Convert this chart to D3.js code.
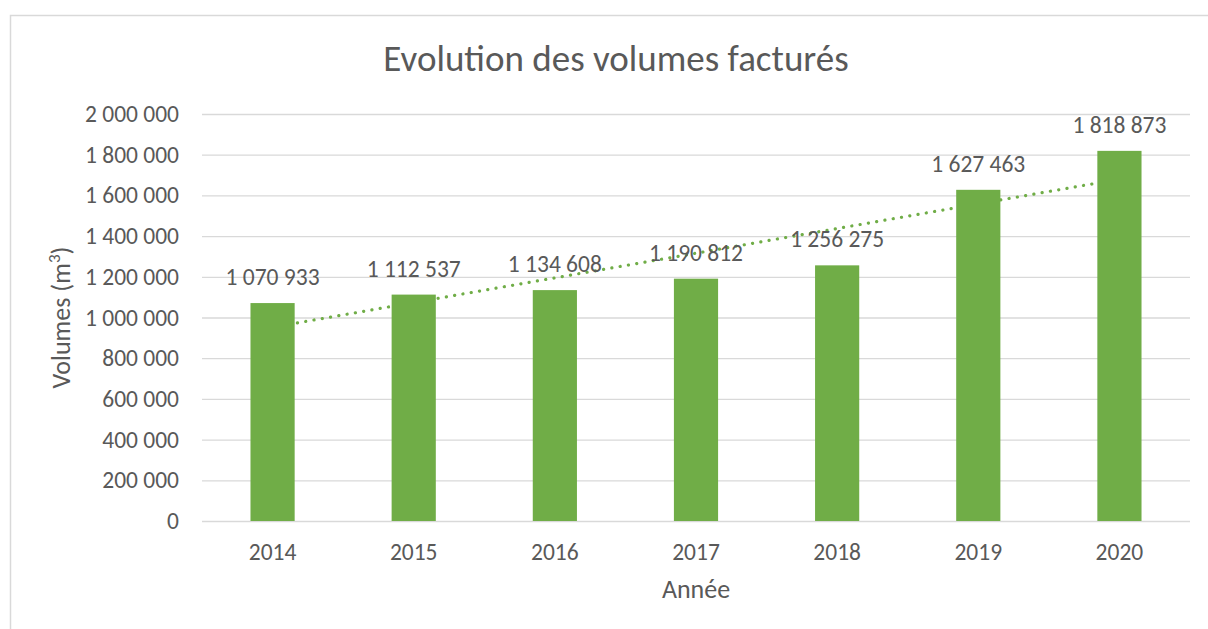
<!DOCTYPE html>
<html>
<head>
<meta charset="utf-8">
<script src="https://cdn.jsdelivr.net/npm/d3@7"></script>
<style>
  body { margin: 0; background: #fff; }
  text { font-family: Calibri, Carlito, Lato, sans-serif; fill: #595959; }
</style>
</head>
<body>
<div id="chart"></div>
<script>
var years = ["2014", "2015", "2016", "2017", "2018", "2019", "2020"];
var volumes = [1070933, 1112537, 1134608, 1190812, 1256275, 1627463, 1818873];
var yTicks = [0, 200000, 400000, 600000, 800000, 1000000, 1200000, 1400000, 1600000, 1800000, 2000000];

var W = 1208, H = 629,
	LEFT = 202, RIGHT = 1190,
	TOP = 114, BOTTOM = 521,
	GREEN = "#70ad47",
	GRID = "#d9d9d9",
	NUM_SIZE = "23.5px",
	LBL_SIZE = "26px";

// french style thousand separator
var fmt = function(v) {
	return d3.format(",")(v).replace(/,/g, " ");
};

var svg = d3.select("#chart")
	.append("svg")
		.attr("width", W)
		.attr("height", H);

// chart frame
svg.append("rect")
	.attr("x", 10.5).attr("y", 15.5)
	.attr("width", W).attr("height", H)
	.attr("fill", "none")
	.attr("stroke", GRID)
	.attr("stroke-width", 1.5);

var x = d3.scaleBand()
	.domain(years)
	.range([LEFT, RIGHT])
	.paddingInner(0.687)
	.paddingOuter(0.3435);

var y = d3.scaleLinear()
	.domain([0, 2000000])
	.range([BOTTOM, TOP]);

// gridlines + tick labels
var yAxis = d3.axisLeft(y)
	.tickValues(yTicks)
	.tickSize(-(RIGHT - LEFT))
	.tickPadding(23)
	.tickFormat(fmt);

var gy = svg.append("g")
	.attr("transform", "translate(" + LEFT + ",0)")
	.call(yAxis);
gy.select(".domain").remove();
gy.selectAll("line").attr("stroke", GRID).attr("stroke-width", 1.3);
gy.selectAll("text")
	.style("font-size", NUM_SIZE)
	.attr("fill", "#595959");

// x axis labels
var xAxis = d3.axisBottom(x).tickSize(0).tickPadding(22);
var gx = svg.append("g")
	.attr("transform", "translate(0," + BOTTOM + ")")
	.call(xAxis);
gx.select(".domain").remove();
gx.selectAll("text")
	.style("font-size", NUM_SIZE)
	.attr("fill", "#595959");

// linear trend (least squares on category index)
var n = volumes.length,
	xs = d3.range(1, n + 1),
	mx = d3.mean(xs),
	my = d3.mean(volumes),
	slope = d3.sum(xs, function(d, i) { return (d - mx) * (volumes[i] - my); }) /
		d3.sum(xs, function(d) { return (d - mx) * (d - mx); }),
	icpt = my - slope * mx;

var trend = [0, n - 1].map(function(i) {
	return { year: years[i], v: icpt + slope * xs[i] };
});

svg.append("path")
	.datum(trend)
	.attr("fill", "none")
	.attr("stroke", GREEN)
	.attr("stroke-width", 3.2)
	.attr("stroke-linecap", "round")
	.attr("stroke-dasharray", "0.1 8.3")
	.attr("d", d3.line()
		.x(function(d) { return x(d.year) + x.bandwidth() / 2; })
		.y(function(d) { return y(d.v); }));

// bars
svg.selectAll(".bar")
	.data(volumes)
	.enter()
	.append("rect")
		.attr("class", "bar")
		.attr("x", function(d, i) { return x(years[i]); })
		.attr("y", function(d) { return y(d); })
		.attr("width", x.bandwidth())
		.attr("height", function(d) { return BOTTOM - y(d); })
		.attr("fill", GREEN);

// data labels
svg.selectAll(".lbl")
	.data(volumes)
	.enter()
	.append("text")
		.attr("class", "lbl")
		.attr("x", function(d, i) { return x(years[i]) + x.bandwidth() / 2; })
		.attr("y", function(d) { return y(d) - 18; })
		.attr("text-anchor", "middle")
		.style("font-size", NUM_SIZE)
		.text(fmt);

// title
svg.append("text")
	.attr("x", 616)
	.attr("y", 71)
	.attr("text-anchor", "middle")
	.style("font-size", "37px")
	.text("Evolution des volumes facturés");

// axis titles
svg.append("text")
	.attr("x", (LEFT + RIGHT) / 2)
	.attr("y", 598)
	.attr("text-anchor", "middle")
	.style("font-size", LBL_SIZE)
	.text("Année");

var yt = svg.append("text")
	.attr("transform", "translate(70," + ((TOP + BOTTOM) / 2) + ") rotate(-90)")
	.attr("text-anchor", "middle")
	.style("font-size", LBL_SIZE);
yt.append("tspan").text("Volumes (m");
yt.append("tspan").attr("dy", -10).style("font-size", "17px").text("3");
yt.append("tspan").attr("dy", 10).text(")");
</script>
</body>
</html>
